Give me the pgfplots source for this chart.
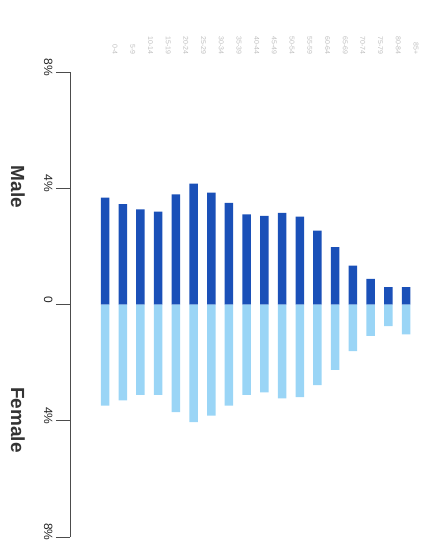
\documentclass[border=0pt]{standalone}
\usepackage{pgfplots}
\pgfplotsset{compat=1.18}
\usepackage{fontspec}
\setmainfont{Liberation Sans}
\definecolor{male}{HTML}{1A50B8}
\definecolor{female}{HTML}{9AD5F6}
\begin{document}
\begin{tikzpicture}
\useasboundingbox (0,0) rectangle (433pt,560pt);
\begin{axis}[
  at={(70pt,23pt)}, anchor=south west,
  scale only axis, width=350pt, height=465pt,
  xmin=-1.98, xmax=17.79, ymin=-8, ymax=8,
  axis y line=left, axis x line=top,
  axis line style={-, black!70, line width=0.8pt},
  x axis line style={draw=none},
  xtick={0,...,17},
  xticklabels={0-4,5-9,10-14,15-19,20-24,25-29,30-34,35-39,40-44,45-49,50-54,55-59,60-64,65-69,70-74,75-79,80-84,85+},
  xticklabel style={rotate=-90, anchor=east, font=\scriptsize, text=black!25, yshift=10pt},
  x tick style={draw=none},
  ytick={-8,-4,0,4,8},
  yticklabels={8\%,4\%,0,4\%,8\%},
  yticklabel style={rotate=-90, anchor=north, font=\fontsize{12}{14}\selectfont, text=black!85, xshift=-5pt},
  y tick style={black!70, line width=0.8pt},
  tick align=outside, major tick length=14pt,
  /pgf/number format/assume math mode=true,
  clip=false,
]
\addplot[ybar, bar width=8.5pt, bar shift=0pt, fill=male, draw=none] coordinates {
(0,3.68) (1,3.45) (2,3.27) (3,3.20) (4,3.79) (5,4.16) (6,3.85) (7,3.50) (8,3.10)
(9,3.05) (10,3.15) (11,3.02) (12,2.54) (13,1.97) (14,1.34) (15,0.88) (16,0.60) (17,0.60)};
\addplot[ybar, bar width=8.5pt, bar shift=0pt, fill=female, draw=none] coordinates {
(0,-3.48) (1,-3.30) (2,-3.11) (3,-3.11) (4,-3.70) (5,-4.05) (6,-3.82) (7,-3.48) (8,-3.11)
(9,-3.02) (10,-3.23) (11,-3.19) (12,-2.77) (13,-2.25) (14,-1.60) (15,-1.08) (16,-0.74) (17,-1.03)};
\end{axis}
\node[rotate=-90, font=\bfseries\fontsize{19}{22}\selectfont, text=black!80] at (18pt,373pt) {Male};
\node[rotate=-90, font=\bfseries\fontsize{19}{22}\selectfont, text=black!80] at (18pt,140pt) {Female};
\end{tikzpicture}
\end{document}
